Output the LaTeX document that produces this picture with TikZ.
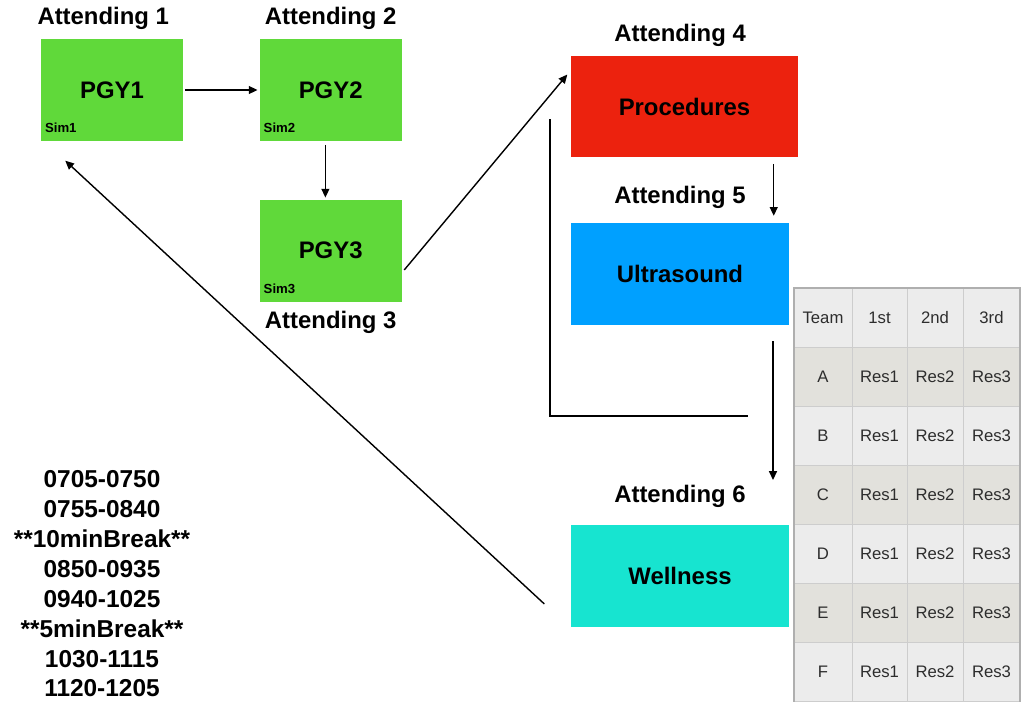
\documentclass[tikz,border=0pt]{standalone}
\usepackage{fontspec}
\setmainfont{Liberation Sans}
\usepackage{xcolor}
\usetikzlibrary{positioning,arrows.meta}

\definecolor{simgreen}{RGB}{96,217,58}
\definecolor{procred}{RGB}{236,34,14}
\definecolor{usblue}{RGB}{0,160,255}
\definecolor{wellteal}{RGB}{23,228,208}
\definecolor{rowlight}{RGB}{236,236,236}
\definecolor{rowdark}{RGB}{226,225,220}
\definecolor{gridgray}{RGB}{205,205,205}
\definecolor{framegray}{RGB}{175,175,175}
\definecolor{tablegray}{RGB}{45,45,45}

\tikzset{
  station/.style={minimum height=2.04cm, inner sep=0pt,
    font=\fontsize{13.6}{16}\selectfont\bfseries},
  attending/.style={inner sep=0pt, font=\fontsize{13.6}{16}\selectfont\bfseries},
  simtag/.style={inner sep=0pt, anchor=south west,
    font=\fontsize{7.5}{9}\selectfont\bfseries},
  flow/.style={-{Triangle[length=5pt,width=4.5pt]}, line width=0.8pt},
  cell/.style={draw=gridgray, inner sep=0pt, minimum height=1.18cm,
    text=tablegray, font=\fontsize{9.5}{11}\selectfont}
}

\begin{document}
\begin{tikzpicture}[x=0.02cm, y=-0.02cm]
  \useasboundingbox (0,0) rectangle (1025,701);

  % simulation rooms
  \node (pgy1) [station, fill=simgreen, minimum width=2.84cm] at (112,90) {PGY1};
  \node (pgy2) [station, fill=simgreen, minimum width=2.84cm, right=1.52cm of pgy1] {PGY2};
  \node (pgy3) [station, fill=simgreen, minimum width=2.84cm, below=1.16cm of pgy2] {PGY3};
  \node (sim1) [simtag] at ([xshift=2.3pt,yshift=4.5pt]pgy1.south west) {Sim1};
  \node (sim2) [simtag] at ([xshift=2.3pt,yshift=4.5pt]pgy2.south west) {Sim2};
  \node (sim3) [simtag] at ([xshift=2.3pt,yshift=4.5pt]pgy3.south west) {Sim3};

  % skills stations
  \node (proc) [station, fill=procred, minimum width=4.54cm] at (684.5,106.5) {Procedures};
  \node (ultra) [station, fill=usblue, minimum width=4.36cm,
    below=1.3cm of proc.south west, anchor=north west] {Ultrasound};
  \node (well) [station, fill=wellteal, minimum width=4.36cm,
    below=3.98cm of ultra.south west, anchor=north west] {Wellness};

  \node (att1) [attending, above=0.18cm of pgy1, xshift=-5pt] {Attending 1};
  \node (att2) [attending, above=0.18cm of pgy2] {Attending 2};
  \node (att3) [attending, below=0.18cm of pgy3] {Attending 3};
  \node (att4) [attending, above=0.16cm of proc, xshift=-2.5pt] {Attending 4};
  \node (att5) [attending, above=0.28cm of ultra] {Attending 5};
  \node (att6) [attending, above=0.34cm of well] {Attending 6};

  % rotation
  \draw[flow, shorten <=1pt, shorten >=1pt] (pgy1) -- (pgy2);
  \draw[flow, shorten <=2pt, shorten >=1pt]
    ([xshift=-3pt]pgy2.south) -- ([xshift=-3pt]pgy3.north);
  \draw[flow, shorten <=2pt, shorten >=3pt]
    ([yshift=-12.5pt]pgy3.east) -- ([yshift=20.5pt]proc.west);
  \draw[flow, shorten <=3.5pt, shorten >=4pt]
    ([xshift=-14pt]proc.south east) -- ([xshift=-14pt]proc.south east |- ultra.north);
  \coordinate (wellin) at (773,480);
  \draw[flow, shorten <=9pt] (ultra.south east -| wellin) -- (wellin);
  \draw[flow]
    ([xshift=-15pt,yshift=-16pt]well.west) -- ([xshift=14pt,yshift=-11pt]pgy1.south west);

  \coordinate (loopa) at (550,119);
  \coordinate (loopb) at (748,416);
  \draw[line width=0.8pt] (loopa) |- (loopb);

  % schedule
  \node (times) [align=center, inner sep=0pt, font=\fontsize{13.9}{17}\selectfont\bfseries]
    at (102,584)
    {0705-0750\\0755-0840\\**10minBreak**\\0850-0935\\0940-1025\\**5minBreak**\\1030-1115\\1120-1205};

  % team table
  \node (head0) [cell, fill=rowlight, minimum width=1.16cm] at (823,317.5) {Team};
  \foreach \c/\cx/\cw/\lab in {1/879.5/1.10/1st, 2/935/1.12/2nd, 3/991.5/1.14/3rd}
    \node (head\c) [cell, fill=rowlight, minimum width=\cw cm] at (\cx,317.5) {\lab};
  \foreach \team/\shade [count=\r] in {A/rowdark,B/rowlight,C/rowdark,D/rowlight,E/rowdark,F/rowlight} {
    \node (team\team) [cell, fill=\shade, minimum width=1.16cm] at (823,{317.5+59*\r}) {\team};
    \foreach \c/\cx/\cw in {1/879.5/1.10, 2/935/1.12, 3/991.5/1.14}
      \node (res\team\c) [cell, fill=\shade, minimum width=\cw cm] at (\cx,{317.5+59*\r}) {Res\c};
  }
  \draw[framegray, line width=0.6pt] (794,710) |- (1020,288) -- (1020,710);
\end{tikzpicture}
\end{document}
